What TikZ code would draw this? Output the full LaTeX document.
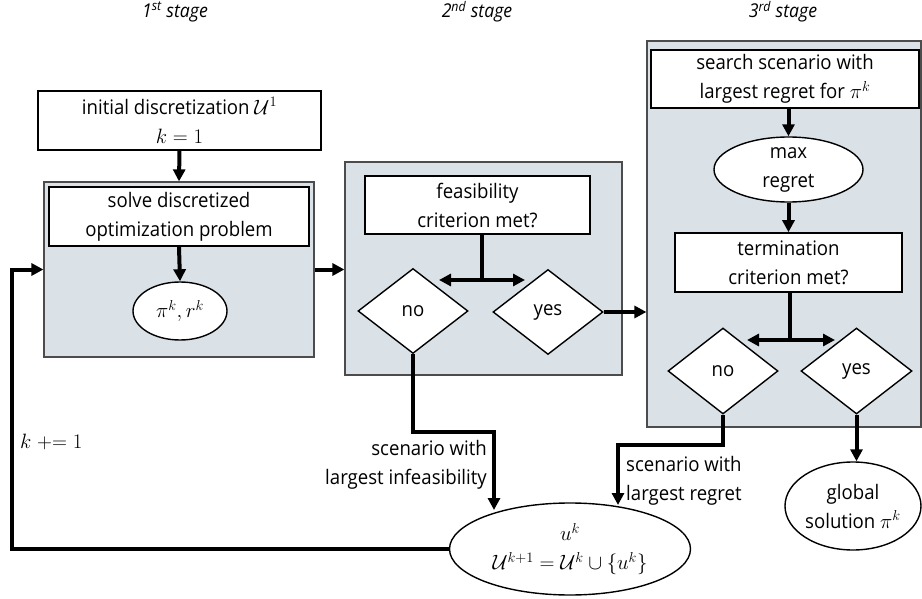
\documentclass[tikz,border=0pt]{standalone}
\usepackage{fontspec}
\setmainfont{Open Sans}[FakeStretch=0.93]
\usetikzlibrary{arrows.meta,shapes.geometric}
\definecolor{panel}{HTML}{DAE2E8}
\begin{document}
\begin{tikzpicture}[x=1pt,y=-1pt,
  every node/.style={font={\fontsize{20}{29}\selectfont}, inner sep=0pt, align=center},
  wbox/.style={draw=black, line width=1.6pt, fill=white, rectangle},
  gbox/.style={draw=black!70, line width=1.2pt, fill=panel, rectangle},
  oval/.style={draw=black, line width=1.4pt, fill=white, ellipse},
  dia/.style={draw=black, line width=1.4pt, fill=white, diamond},
  conn/.style={line width=4pt, -{Triangle[length=12pt,width=12pt]}},
  dconn/.style={line width=4pt, {Triangle[length=12pt,width=12pt]}-{Triangle[length=12pt,width=12pt]}},
  line/.style={line width=4pt},
  stagelbl/.style={font={\fontsize{19}{22}\selectfont\itshape}}
]
\path[use as bounding box] (0,0) rectangle (922,599);

% stage labels
\node[stagelbl] (s1) at (175,12) {1\textsuperscript{st} stage};
\node[stagelbl] (s2) at (477,12) {2\textsuperscript{nd} stage};
\node[stagelbl] (s3) at (783,12) {3\textsuperscript{rd} stage};

% stage 1
\node[wbox, minimum width=283, minimum height=59] (init) at (179.5,120.5) {initial discretization $\mathcal{U}^1$\\$k=1$};
\node[gbox, minimum width=270, minimum height=175] (g1) at (179,269.5) {};
\node[wbox, minimum width=260, minimum height=59] (solve) at (179,216.5) {solve discretized\\optimization problem};
\node[oval, minimum width=94, minimum height=58] (pr) at (180,311) {$\pi^k, r^k$};

% stage 2
\node[gbox, minimum width=277, minimum height=213] (g2) at (483.5,268.5) {};
\node[wbox, minimum width=225, minimum height=58] (feas) at (477.5,205) {feasibility\\criterion met?};
\node[dia, minimum width=110, minimum height=85, aspect=1.3] (no1) at (413,311) {no};
\node[dia, minimum width=110, minimum height=85, aspect=1.3] (yes1) at (548,312) {yes};

% stage 3
\node[gbox, minimum width=274, minimum height=386] (g3) at (784,234) {};
\node[wbox, minimum width=268, minimum height=58] (search) at (785,79) {search scenario with\\largest regret for $\pi^k$};
\node[oval, minimum width=149, minimum height=65] (maxr) at (788.5,169.5) {max\\regret};
\node[wbox, minimum width=227, minimum height=59] (term) at (788.5,262.5) {termination\\criterion met?};
\node[dia, minimum width=110, minimum height=86, aspect=1.3] (no2) at (723,371) {no};
\node[dia, minimum width=111, minimum height=86, aspect=1.3] (yes2) at (856.5,371) {yes};

% outputs
\node[oval, minimum width=136, minimum height=88] (glob) at (853,506) {global\\solution $\pi^k$};
\node[oval, minimum width=241, minimum height=92] (big) at (570,549) {$u^k$\\$\mathcal{U}^{k+1}=\mathcal{U}^k\cup\{u^k\}$};

% helper coordinates
\coordinate (lb) at (12,549);
\coordinate (lt) at (12,269.5);
\coordinate (fj) at (482,280);
\coordinate (fl) at (439,280);
\coordinate (fr) at (525,280);
\coordinate (tj) at (790,340);
\coordinate (tl) at (747,340);
\coordinate (tr) at (835,340);
\coordinate (n1a) at (413,432);
\coordinate (n1b) at (494,432);
\coordinate (n1e) at (494,510);
\coordinate (n2a) at (723,445);
\coordinate (n2b) at (618,445);
\coordinate (n2e) at (618,505);

% connectors
\draw[conn] (init.south) -- (g1.north);
\draw[conn] (solve.south) -- (pr.north);
\draw[conn] (big.west) -- (lb) -- (lt) -- (g1.west);
\draw[conn] (g1.east) -- (g1.east -| g2.west);
\draw[line] (feas.south -| fj) -- (fj);
\draw[dconn] (fl) -- (fr);
\draw[conn] (yes1.east) -- (yes1.east -| g3.west);
\draw[conn] (search.south -| maxr.north) -- (maxr.north);
\draw[conn] (maxr.south) -- (maxr.south |- term.north);
\draw[line] (term.south -| tj) -- (tj);
\draw[dconn] (tl) -- (tr);
\draw[conn] (no1.south) -- (n1a) -- (n1b) -- (n1e);
\draw[conn] (no2.south) -- (n2a) -- (n2b) -- (n2e);
\draw[conn] (yes2.south) -- (yes2.south |- glob.north);

% labels
\node[anchor=west] (kinc) at (20,442) {$k \mathrel{{+}{=}} 1$};
\node[anchor=east, align=right] (linf) at (487,465) {scenario with\\largest infeasibility};
\node[anchor=west, align=left] (lreg) at (626,481) {scenario with\\largest regret};
\end{tikzpicture}
\end{document}
